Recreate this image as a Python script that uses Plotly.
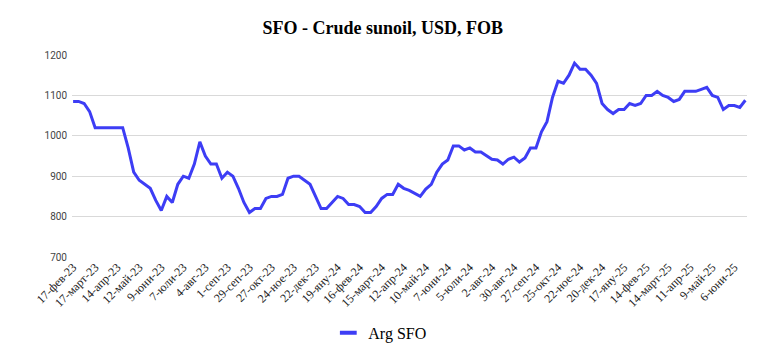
import datetime as dt
import plotly.graph_objects as go

# Weekly prices, Arg SFO (USD/t FOB), starting 17-Feb-2023
start_date = "2023-02-17"
arg_sfo = [
    1085, 1085, 1080, 1060, 1020, 1020, 1020, 1020, 1020, 1020,
    970, 910, 890, 880, 870, 840, 815, 850, 835, 880,
    900, 895, 930, 985, 950, 930, 930, 895, 910, 900,
    870, 835, 810, 820, 820, 845, 850, 850, 855, 895,
    900, 900, 890, 880, 850, 820, 820, 835, 850, 845,
    830, 830, 825, 810, 810, 825, 845, 855, 855, 880,
    870, 865, 858, 850, 868, 880, 910, 930, 940, 975,
    975, 965, 970, 960, 960, 952, 942, 940, 930, 942,
    947, 935, 945, 970, 970, 1010, 1035, 1095, 1135, 1130,
    1150, 1180, 1165, 1165, 1150, 1130, 1080, 1065, 1055, 1065,
    1065, 1080, 1075, 1080, 1100, 1100, 1110, 1100, 1095, 1085,
    1090, 1110, 1110, 1110, 1115, 1120, 1100, 1095, 1065, 1075,
    1075, 1070, 1088,
]
month_names = ["яну", "фев", "март", "апр", "май", "юни",
               "юли", "авг", "сеп", "окт", "ное", "дек"]
y_ticks = [700, 800, 900, 1000, 1100, 1200]
label_every = 4

d0 = dt.date.fromisoformat(start_date)
dates = [d0 + dt.timedelta(weeks=i) for i in range(len(arg_sfo))]
labels = [f"{d.day}-{month_names[d.month - 1]}-{d.year % 100:02d}" for d in dates]

serif = "Liberation Serif, Times New Roman, serif"
blue = "#3d3df5"

fig = go.Figure()
fig.add_trace(go.Scatter(
    x=labels, y=arg_sfo, mode="lines", name="Arg SFO",
    line=dict(color=blue, width=3), showlegend=False,
))
# legend entry with a short dash symbol
fig.add_trace(go.Scatter(
    x=[None], y=[None], mode="markers", name="Arg SFO",
    marker=dict(symbol="line-ew", size=12, line=dict(color=blue, width=4)),
    showlegend=True,
))

fig.update_layout(
    width=760, height=354,
    margin=dict(l=64, r=21, t=47, b=105, autoexpand=False),
    paper_bgcolor="white", plot_bgcolor="white",
    title=dict(text="<b>SFO - Crude sunoil, USD, FOB</b>",
               x=0.493, xanchor="center", y=0.9435, yanchor="middle",
               font=dict(family=serif, size=18, color="#000")),
    showlegend=True,
    legend=dict(orientation="h", x=0.456, xanchor="center", y=-0.376, yanchor="middle",
                font=dict(family=serif, size=16, color="#000")),
    xaxis=dict(type="category", range=[-0.2, len(arg_sfo) - 0.7],
               automargin=False,
               tickmode="array", tickvals=labels[::label_every],
               ticktext=labels[::label_every], tickangle=-45,
               tickfont=dict(family=serif, size=12, color="#222"),
               showgrid=False, zeroline=False, showline=False, ticks=""),
    yaxis=dict(range=[700, 1200], tickvals=y_ticks, automargin=False,
               ticklabelstandoff=4,
               tickfont=dict(family="Roboto", size=10, color="#444"),
               showgrid=True, gridcolor="#d9d9d9", gridwidth=1,
               zeroline=False, showline=False, ticks=""),
)

fig.write_html("out.html")
